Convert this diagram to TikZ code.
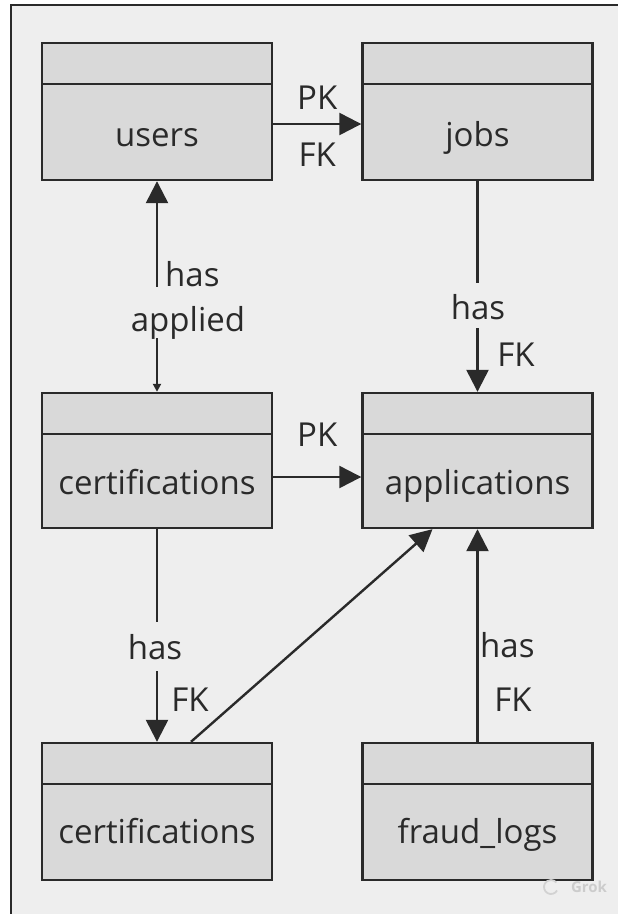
\documentclass[tikz,border=0pt]{standalone}
\usepackage{fontspec}
\setmainfont{Open Sans}
\usetikzlibrary{arrows.meta}

\definecolor{canvas}{HTML}{EEEEEE}
\definecolor{boxfill}{HTML}{D9D9D9}
\definecolor{ink}{HTML}{2A2A2A}

\begin{document}
\begin{tikzpicture}[
    x=1pt, y=-1pt,
    >={Triangle[length=22pt, width=22pt]},
    line/.style    = {draw=ink, line width=2.4pt},
    entity/.style  = {draw=ink, line width=2.4pt, fill=boxfill, inner sep=0pt,
                      minimum width=230pt, minimum height=137pt,
                      path picture={\draw[line]
                        ([yshift=-41pt]path picture bounding box.north west) --
                        ([yshift=-41pt]path picture bounding box.north east);}},
    enttext/.style = {font=\fontsize{33}{40}\selectfont, text=ink, anchor=base},
    lbl/.style     = {font=\fontsize{33}{40}\selectfont, text=ink, inner sep=2pt},
    gap/.style     = {lbl, fill=canvas, inner xsep=4pt, inner ysep=0pt, anchor=base}
]

% Canvas and frame
\useasboundingbox (0,0) rectangle (618,914);
\fill[white] (0,0) rectangle (618,914);
\fill[canvas] (11,5) rectangle (618,914);
\draw[ink, line width=2pt] (11,914) -- (11,5) -- (618,5);

% Entities
\node[entity] (users) at (157,111.5) {};
\node[enttext] at ([yshift=-35pt]users.center) {users};
\node[entity] (jobs)  at (477.5,111.5) {};
\node[enttext] at ([yshift=-35pt]jobs.center) {jobs};
\node[entity, minimum height=135pt] (certm) at (157,460.5) {};
\node[enttext] at ([yshift=-34pt]certm.center) {certifications};
\node[entity, minimum height=135pt] (apps)  at (477.5,460.5) {};
\node[enttext] at ([yshift=-34pt]apps.center) {applications};
\node[entity] (certb) at (157,811.5) {};
\node[enttext] at ([yshift=-32pt]certb.center) {certifications};
\node[entity] (fraud) at (477.5,811.5) {};
\node[enttext] at ([yshift=-32pt]fraud.center) {fraud\_logs};

% users -> jobs
\draw[line, ->] ([yshift=-12.5pt]users.east) -- ([yshift=-12.5pt]jobs.west)
    node[lbl, midway, above=11pt] {PK}
    node[lbl, midway, below=16pt] {FK};

% users <-> certifications
\draw[line, {Triangle[length=22pt, width=22pt]}-{Triangle[length=8pt, width=8pt]}]
    (users.south) -- (certm.north);
\node[lbl, anchor=base west] at (163,286) {has};
\node[gap, text height=44pt, text depth=7pt] at (188,331) {applied};

% jobs -> applications
\draw[line, ->] (jobs.south) -- (apps.north);
\node[gap, text height=36pt, text depth=9pt] at (478,319) {has};
\node[lbl] at (516,355) {FK};

% certifications -> applications
\draw[line, ->] ([yshift=-16.5pt]certm.east) -- ([yshift=-16.5pt]apps.west)
    node[lbl, midway, above=27pt] {PK};

% certifications -> certifications
\draw[line, ->] (certm.south) -- (certb.north);
\node[gap, text height=37pt, text depth=12pt] at (155,659) {has};
\node[lbl] at (190,700) {FK};

% certifications -> applications (diagonal)
\draw[line, ->] ([xshift=34pt]certb.north) -- ([xshift=-45pt]apps.south);

% fraud_logs -> applications
\draw[line, ->] (fraud.north) -- (apps.south);
\node[lbl, anchor=west] at (478,645) {has};
\node[lbl] at (513,700) {FK};

% Watermark
\draw[gray!35, line width=1.8pt] (551,887) ++(30:7) arc (30:320:7);
\node[text=gray!40, font=\fontsize{15}{18}\selectfont\bfseries] (mark) at (589,887) {Grok};

\end{tikzpicture}
\end{document}
